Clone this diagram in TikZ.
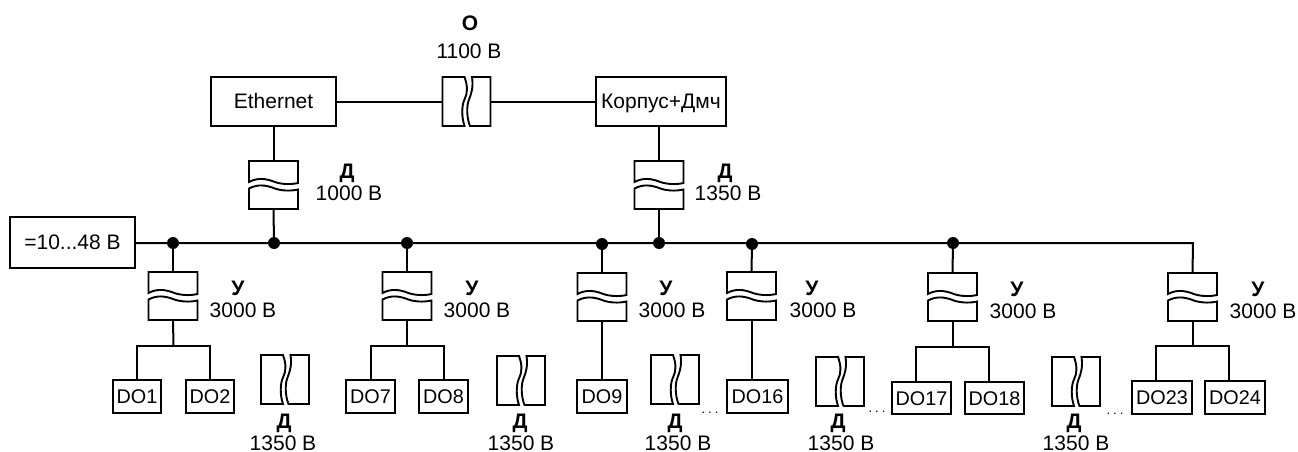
\documentclass[tikz,border=0pt]{standalone}
\usepackage{fontspec}
\setmainfont{Liberation Sans}
\tikzset{
  every picture/.style={x=1pt,y=-1pt},
  wire/.style={line width=2pt,line join=miter},
  isoline/.style={line width=1.9pt,line join=miter},
  blockbox/.style={draw,line width=2pt,rectangle,inner sep=0pt,outer sep=0pt,
    font=\fontsize{21}{23}\selectfont,text height=14pt,text depth=0pt},
  isoframe/.style={rectangle,inner sep=0pt,outer sep=0pt,minimum width=49pt,minimum height=48pt},
  junction/.style={circle,fill=black,inner sep=0pt,minimum size=12pt},
  lab/.style={anchor=base,inner sep=0pt,font=\fontsize{21}{23}\selectfont},
  blab/.style={anchor=base,inner sep=0pt,font=\fontsize{21}{23}\selectfont\bfseries},
  gaplab/.style={anchor=base,inner sep=0pt,font=\fontsize{13}{14}\selectfont},
  dotext/.style={font=\fontsize{19.8}{22}\selectfont}
}
% block: name, x1, y1, x2, y2, text
\newcommand{\blockat}[7][]{%
  \pgfmathsetmacro{\bcx}{(#3+#5)/2}\pgfmathsetmacro{\bcy}{(#4+#6)/2}%
  \pgfmathsetmacro{\bw}{#5-#3}\pgfmathsetmacro{\bh}{#6-#4}%
  \node[blockbox,minimum width=\bw pt,minimum height=\bh pt,#1] (#2) at (\bcx,\bcy) {#7};}
% isolator with a horizontal gap: name, centre x, top y
\newcommand{\hgapiso}[3]{%
  \pgfmathsetmacro{\bcy}{#3+24}%
  \node[isoframe] (#1) at (#2,\bcy) {};
  \begin{scope}[shift={(#1.center)}]
    \draw[isoline] (-24.5,-3) .. controls (-16,-7.5) and (-8,-6.5) .. (0,-3.5)
       .. controls (6,-1) and (16,0) .. (24.5,-2) -- (24.5,-24) -- (-24.5,-24) -- cycle;
    \draw[isoline] (-24.5,3.5) .. controls (-16,-1) and (-8,0) .. (0,3)
       .. controls (6,5.5) and (16,6.5) .. (24.5,4.5) -- (24.5,24) -- (-24.5,24) -- cycle;
  \end{scope}}
% isolator with a vertical gap: name, centre x, top y
\newcommand{\vgapiso}[3]{%
  \pgfmathsetmacro{\bcy}{#3+24.5}%
  \node[isoframe,minimum width=48pt,minimum height=49pt] (#1) at (#2,\bcy) {};
  \begin{scope}[shift={(#1.center)}]
    \draw[isoline] (-2,-24.5) .. controls (1.5,-15) and (1,-8) .. (-2,-2)
       .. controls (-5,4) and (-5,16) .. (-2,24.5) -- (-24,24.5) -- (-24,-24.5) -- cycle;
    \draw[isoline] (5.5,-24.5) .. controls (7,-15) and (5,-8) .. (2.5,-2)
       .. controls (0,4) and (0,16) .. (3.5,24.5) -- (24,24.5) -- (24,-24.5) -- cycle;
  \end{scope}}
% labels: name prefix, x of letter, x of voltage, letter baseline, voltage baseline, letter, voltage
\newcommand{\isolabel}[7]{%
  \node[blab] (#1l) at (#2,#4) {#6};
  \node[lab] (#1v) at (#3,#5) {#7};}
\begin{document}
\begin{tikzpicture}
\useasboundingbox (0,0) rectangle (1298,452);

% top blocks
\blockat{eth}{211}{77}{336}{126}{Ethernet}
\blockat{korp}{596}{77}{726}{126}{Корпус+Дмч}
\blockat{pwr}{10}{217}{135}{268}{=10...48 В}
\vgapiso{isoO}{466.5}{77}
\hgapiso{isoE}{273.5}{161}
\hgapiso{isoK}{659}{161}
\isolabel{o}{470}{469}{31}{59}{О}{1100 В}
\isolabel{e}{347}{349}{178}{200}{Д}{1000 В}
\isolabel{k}{725}{728}{178}{200}{Д}{1350 В}

% bus
\node[junction] (j1) at (173,243) {};
\node[junction] (j2) at (274,243) {};
\node[junction] (j3) at (407,243) {};
\node[junction] (j4) at (602,244) {};
\node[junction] (j5) at (659,243) {};
\node[junction] (j6) at (752,244) {};
\node[junction] (j7) at (953,243) {};
\coordinate (busend) at (1193,243);

% output isolators
\hgapiso{u1}{173}{272}
\hgapiso{u2}{407}{272}
\hgapiso{u3}{602}{273}
\hgapiso{u4}{751.5}{272}
\hgapiso{u5}{952.5}{273}
\hgapiso{u6}{1192.5}{273}
\isolabel{ua}{238}{243}{295}{317}{У}{3000 В}
\isolabel{ub}{472}{477}{295}{317}{У}{3000 В}
\isolabel{uc}{666}{672}{295}{317}{У}{3000 В}
\isolabel{ud}{812}{823}{295}{317}{У}{3000 В}
\isolabel{ue}{1017}{1023}{296}{318}{У}{3000 В}
\isolabel{uf}{1258}{1263}{296}{318}{У}{3000 В}

% outputs
\blockat[dotext]{do1}{113}{380}{161}{413}{DO1}
\blockat[dotext]{do2}{186}{380}{234}{413}{DO2}
\blockat[dotext]{do7}{346}{380}{395}{413}{DO7}
\blockat[dotext]{do8}{419}{380}{468}{413}{DO8}
\blockat[dotext]{do9}{577}{380}{627}{413}{DO9}
\blockat[dotext]{do16}{727}{380}{788}{413}{DO16}
\blockat[dotext]{do17}{892}{382}{951}{414}{DO17}
\blockat[dotext]{do18}{965}{382}{1024}{414}{DO18}
\blockat[dotext]{do23}{1132}{381}{1192}{414}{DO23}
\blockat[dotext]{do24}{1205}{381}{1265}{414}{DO24}

% isolators between output groups
\vgapiso{d1}{285}{355}
\vgapiso{d2}{521}{356}
\vgapiso{d3}{675}{355}
\vgapiso{d4}{840}{357}
\vgapiso{d5}{1076}{357}
\isolabel{da}{284}{283}{428}{450}{Д}{1350 В}
\isolabel{db}{520}{521}{428}{450}{Д}{1350 В}
\isolabel{dc}{675}{678}{428}{450}{Д}{1350 В}
\isolabel{dd}{838}{841}{428}{450}{Д}{1350 В}
\isolabel{de}{1074}{1076}{428}{450}{Д}{1350 В}
\node[gaplab] (g1) at (710,413) {.\kern3pt.\kern3pt.};
\node[gaplab] (g2) at (877,412) {.\kern3pt.\kern3pt.};
\node[gaplab] (g3) at (1115,414) {.\kern3pt.\kern3pt.};

% connectors
\draw[wire] (eth.east) -- (isoO.west);
\draw[wire] (isoO.east) -- (korp.west);
\draw[wire] (eth.south) -- (isoE.north);
\draw[wire] (isoE.south) -- (j2);
\draw[wire] (isoK.north |- korp.south) -- (isoK.north);
\draw[wire] (isoK.south) -- (j5);
\draw[wire] (pwr.east |- j1) -- (j1) -- (j2) -- (j3) -- (j5 -| j4) -- (j5) -- (j5 -| j6) -- (j7) -- (busend) -- (u6.north);
\draw[wire] (j1) -- (u1.north);
\draw[wire] (j3) -- (u2.north);
\draw[wire] (j4) -- (u3.north);
\draw[wire] (j6) -- (u4.north);
\draw[wire] (j7) -- (u5.north);

\coordinate (b1) at (173.5,346);
\coordinate (b2) at (407,346);
\coordinate (b5) at (952.5,347);
\coordinate (b6) at (1192.5,346);
\draw[wire] (u1.south) -- (b1);
\draw[wire] (do1.north) |- (b1) -| (do2.north);
\draw[wire] (u2.south) -- (b2);
\draw[wire] (do7.north) |- (b2) -| (do8.north);
\draw[wire] (u3.south) -- (do9.north);
\draw[wire] (u4.south) -- (u4.south |- do16.north);
\draw[wire] (u5.south) -- (b5);
\draw[wire] ([xshift=-5.5pt]do17.north) |- (b5) -| ([xshift=-5.5pt]do18.north);
\draw[wire] (u6.south) -- (b6);
\draw[wire] ([xshift=-6pt]do23.north) |- (b6) -| ([xshift=-6pt]do24.north);
\end{tikzpicture}
\end{document}
